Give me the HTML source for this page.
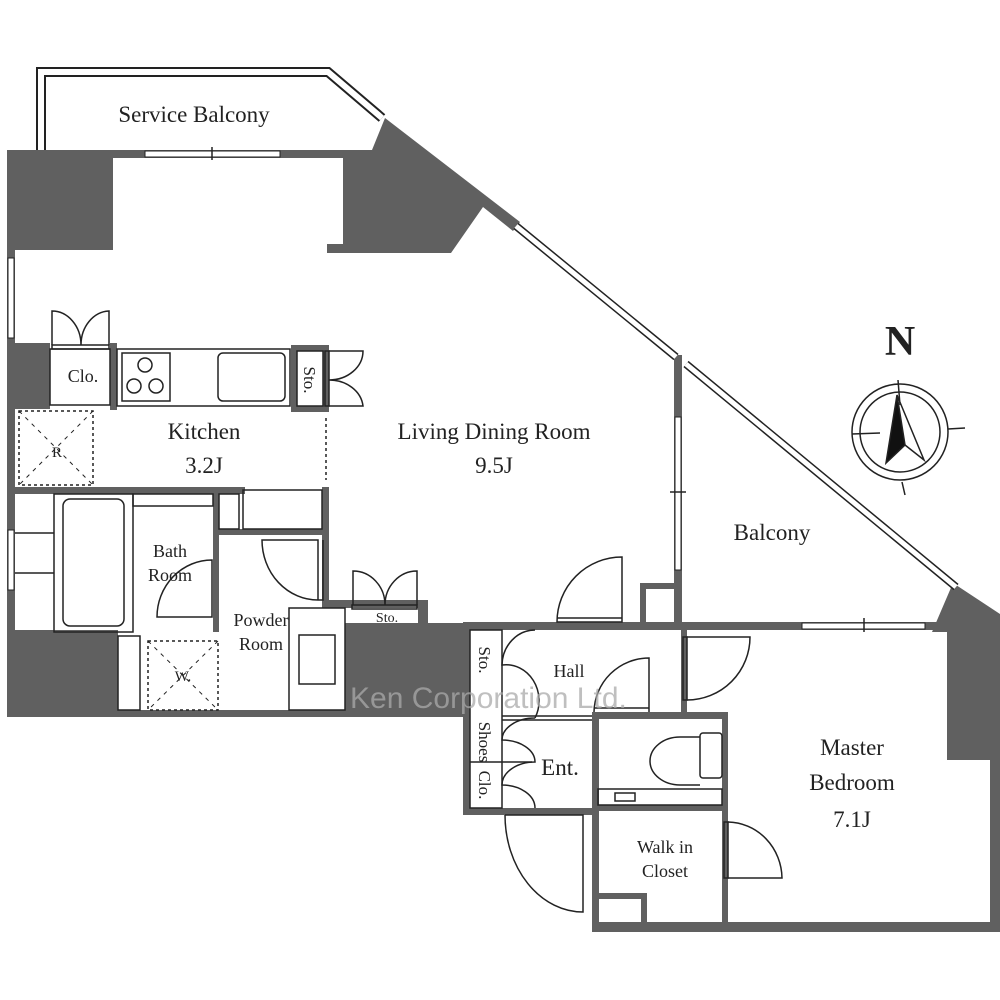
<!DOCTYPE html>
<html><head><style>body{margin:0;background:#fff}svg{display:block}</style></head><body>
<svg width="1000" height="1000" viewBox="0 0 1000 1000" xmlns="http://www.w3.org/2000/svg" font-family="'Liberation Serif',serif" fill="none" stroke="#222" stroke-width="1.5">
<polyline points="41,150 41,72 328,72 382,118" stroke="#222" stroke-width="10"/>
<polyline points="41,150 41,72 328,72 382,118" stroke="#fff" stroke-width="6"/>
<g fill="#606060" stroke="none">
<rect x="7" y="150" width="355" height="8"/>
<rect x="7" y="150" width="106" height="100"/>
<polygon points="343,150 372,150 385,118 520,222 513,231 483,207 451,253 327,253 327,244 343,244"/>
<rect x="7" y="150" width="8" height="567"/>
<rect x="7" y="343" width="43" height="66"/>
<rect x="110" y="343" width="7" height="67"/>
<rect x="291" y="345" width="38" height="67"/>
<rect x="7" y="487" width="238" height="7"/>
<rect x="213" y="487" width="6" height="145"/>
<rect x="7" y="630" width="111" height="87"/>
<rect x="7" y="710" width="458" height="7"/>
<rect x="345" y="623" width="120" height="94"/>
<rect x="322" y="487" width="7" height="118"/>
<rect x="213" y="529" width="115" height="6"/>
<rect x="322" y="600" width="105" height="8"/>
<rect x="418" y="600" width="10" height="25"/>
<rect x="463" y="622" width="484" height="8"/>
<rect x="674" y="355" width="8" height="275"/>
<rect x="640" y="583" width="42" height="6"/>
<rect x="640" y="583" width="6" height="45"/>
<polygon points="953,583 1000,614 1000,932 990,932 990,760 947,760 947,632 932,632"/>
<rect x="463" y="622" width="8" height="193"/>
<rect x="463" y="808" width="135" height="7"/>
<rect x="681" y="625" width="6" height="90"/>
<rect x="592" y="712" width="136" height="7"/>
<rect x="592" y="712" width="7" height="220"/>
<rect x="722" y="712" width="6" height="220"/>
<rect x="592" y="922" width="408" height="10"/>
<rect x="592" y="805" width="136" height="6"/>
<rect x="592" y="893" width="55" height="6"/>
<rect x="641" y="893" width="6" height="35"/>
</g>
<g fill="#fff" stroke="#222" stroke-width="1">
<rect x="145" y="151" width="135" height="6"/>
<rect x="8" y="258" width="6" height="80"/>
<rect x="8" y="530" width="6" height="60"/>
<rect x="675" y="417" width="6" height="153"/>
<rect x="802" y="623" width="123" height="6"/>
</g>
<line x1="212" y1="147" x2="212" y2="160"/><line x1="670" y1="492" x2="686" y2="492"/><line x1="864" y1="618" x2="864" y2="632"/>
<line x1="516" y1="226" x2="676" y2="357" stroke="#222" stroke-width="8"/>
<line x1="516" y1="226" x2="676" y2="357" stroke="#fff" stroke-width="5"/>
<line x1="686" y1="364" x2="956" y2="587" stroke="#222" stroke-width="8"/>
<line x1="686" y1="364" x2="956" y2="587" stroke="#fff" stroke-width="5"/>
<rect x="50" y="349" width="60" height="56" fill="#fff"/>
<rect x="117" y="349" width="173" height="57"/>
<rect x="122" y="353" width="48" height="48"/>
<circle cx="145" cy="365" r="7"/><circle cx="134" cy="386" r="7"/><circle cx="156" cy="386" r="7"/>
<rect x="218" y="353" width="67" height="48" rx="5"/>
<rect x="297" y="351" width="26" height="55" fill="#fff"/>
<rect x="52" y="345" width="57" height="4"/>
<path d="M52 345 V311 A29 34 0 0 1 81 345 M109 345 V311 A29 34 0 0 0 81 345"/>
<rect x="325" y="351" width="4" height="55"/>
<path d="M329 351 H363 A34 29 0 0 1 329 380 M329 406 H363 A34 29 0 0 0 329 380"/>
<rect x="19" y="411" width="74" height="74" stroke-dasharray="3,3"/>
<path d="M19 411 L93 485 M93 411 L19 485" stroke-dasharray="4,5" stroke-width="1"/>
<line x1="326" y1="418" x2="326" y2="480" stroke-dasharray="3,3"/>
<rect x="54" y="494" width="79" height="138"/>
<rect x="63" y="499" width="61" height="127" rx="7"/>
<rect x="133" y="494" width="80" height="12"/>
<line x1="15" y1="533" x2="54" y2="533"/><line x1="15" y1="573" x2="54" y2="573"/>
<path d="M212 560 V617 H157 A55 57 0 0 1 212 560 Z"/>
<rect x="219" y="494" width="20" height="35"/>
<rect x="243" y="490" width="79" height="39"/>
<path d="M323 540 V600 H318 V540 H262 A56 60 0 0 0 318 600"/>
<rect x="118" y="636" width="22" height="74"/>
<rect x="148" y="641" width="70" height="69" stroke-dasharray="3,3"/>
<path d="M148 641 L218 710 M218 641 L148 710" stroke-dasharray="4,5" stroke-width="1"/>
<rect x="289" y="608" width="56" height="102"/>
<rect x="299" y="635" width="36" height="49"/>
<rect x="352" y="605" width="65" height="4"/>
<path d="M353 605 V571 A32 34 0 0 1 385 605 M417 605 V571 A32 34 0 0 0 385 605"/>
<path d="M557 622 A65 65 0 0 1 622 557 V622 Z M557 618 H622"/>
<path d="M687 637 H750 A63 63 0 0 1 687 700"/>
<rect x="683" y="637" width="4" height="63"/>
<path d="M594 712 A55 55 0 0 1 649 658 V712"/>
<line x1="594" y1="708" x2="649" y2="708"/>
<rect x="470" y="630" width="32" height="178" fill="#fff"/>
<line x1="502" y1="720" x2="592" y2="720"/><line x1="502" y1="716" x2="592" y2="716"/>
<line x1="470" y1="762" x2="532" y2="762"/>
<path d="M535 630 A33 36 0 0 0 502 665 A33 36 0 0 1 535 718 M535 718 A33 22 0 0 0 502 740 A33 22 0 0 1 535 762 A33 23 0 0 0 502 785 A33 23 0 0 1 535 808"/>
<path d="M505 815 H583 V912 A78 97 0 0 1 505 815"/>
<path d="M700 737 H680 A30 24 0 0 0 680 785 H700"/>
<rect x="700" y="733" width="22" height="45" rx="3"/>
<rect x="598" y="789" width="124" height="16"/>
<rect x="615" y="793" width="20" height="8"/>
<path d="M728 822 A55 57 0 0 1 782 878 H728"/>
<rect x="724" y="822" width="4" height="56"/>
<circle cx="900" cy="432" r="48"/><circle cx="900" cy="432" r="40"/>
<path d="M898 380 L900 405 M852 434 L880 433 M948 429 L965 428 M902 482 L905 495"/>
<path d="M897 395 L905 445 L886 463 Z" fill="#111"/>
<path d="M897 395 L924 460 L905 445"/>
<g fill="#222" stroke="none" font-size="23" text-anchor="middle">
<text x="194" y="122">Service Balcony</text>
<text x="204" y="439">Kitchen</text>
<text x="204" y="473">3.2J</text>
<text x="494" y="439">Living Dining Room</text>
<text x="494" y="473">9.5J</text>
<text x="772" y="540">Balcony</text>
<text x="852" y="755">Master</text>
<text x="852" y="790">Bedroom</text>
<text x="852" y="827">7.1J</text>
<text x="560" y="775">Ent.</text>
<text x="900" y="355" font-size="42" font-weight="bold">N</text>
<g font-size="18">
<text x="83" y="382">Clo.</text>
<text x="170" y="557">Bath</text>
<text x="170" y="581">Room</text>
<text x="261" y="626">Powder</text>
<text x="261" y="650">Room</text>
<text x="569" y="677">Hall</text>
<text x="665" y="853">Walk in</text>
<text x="665" y="877">Closet</text>
<text x="57" y="457" font-size="15">R</text>
<text x="183" y="681" font-size="15">W.</text>
<text x="387" y="622" font-size="14">Sto.</text>
</g>
<g font-size="17">
<text transform="translate(304,380) rotate(90)">Sto.</text>
<text transform="translate(479,660) rotate(90)">Sto.</text>
<text transform="translate(479,742) rotate(90)">Shoes</text>
<text transform="translate(479,785) rotate(90)">Clo.</text>
</g>
</g>
<text x="350" y="708" font-family="'Liberation Sans',sans-serif" font-size="30" fill="#aaa" fill-opacity="0.75" stroke="none">Ken Corporation Ltd.</text>
</svg>
</body></html>
